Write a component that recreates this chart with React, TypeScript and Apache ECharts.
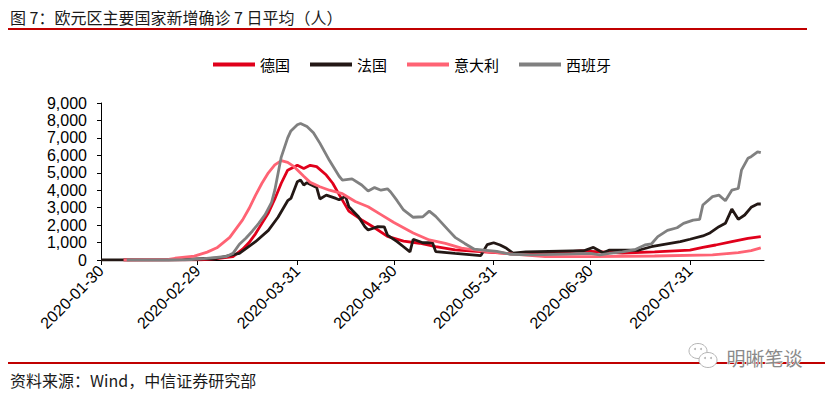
import React, { useEffect, useRef } from "react";
import * as echarts from "echarts";

// ---------- data ----------
const START_DATE = "2020-01-30";
const END_DATE = "2020-08-23";
const TICK_DATES = ["2020-01-30", "2020-02-29", "2020-03-31", "2020-04-30", "2020-05-31", "2020-06-30", "2020-07-31"];
const SERIES_NAMES = ["德国", "法国", "意大利", "西班牙"];

// [MM-DD, value]
const germany: [string, number][] = [
  ["02-06", 0], ["03-01", 10], ["03-06", 80], ["03-11", 200], ["03-14", 620], ["03-16", 1000],
  ["03-18", 1500], ["03-20", 2100], ["03-22", 2700], ["03-24", 3500], ["03-26", 4400], ["03-28", 5150],
  ["03-31", 5430], ["04-02", 5250], ["04-04", 5430], ["04-06", 5350], ["04-09", 4870], ["04-11", 4400],
  ["04-13", 3750], ["04-16", 2800], ["04-20", 2300], ["04-24", 1850], ["04-28", 1350], ["05-03", 1080],
  ["05-08", 960], ["05-13", 770], ["05-19", 580], ["05-28", 470], ["06-06", 350], ["06-16", 380],
  ["06-27", 520], ["07-10", 400], ["07-20", 460], ["07-31", 570], ["08-04", 730], ["08-08", 860],
  ["08-13", 1050], ["08-18", 1240], ["08-22", 1340],
];

const france: [string, number][] = [
  ["01-30", 0], ["02-20", 0], ["03-06", 100], ["03-13", 380], ["03-18", 1050], ["03-22", 1700],
  ["03-25", 2450], ["03-28", 3400], ["03-29", 3530], ["03-31", 4490], ["04-01", 4580], ["04-02", 4300],
  ["04-03", 4430], ["04-06", 4160], ["04-07", 3500], ["04-09", 3720], ["04-12", 3530], ["04-13", 3450],
  ["04-15", 3650], ["04-16", 3060], ["04-19", 2480], ["04-21", 1910], ["04-22", 1720], ["04-25", 1910],
  ["04-27", 1900], ["04-28", 1430], ["05-01", 1050], ["05-03", 760], ["05-05", 470], ["05-06", 1190],
  ["05-09", 990], ["05-12", 990], ["05-13", 480], ["05-19", 380], ["05-27", 250], ["05-29", 880],
  ["05-31", 990], ["06-02", 860], ["06-04", 670], ["06-06", 390], ["06-10", 470], ["06-28", 530],
  ["07-01", 720], ["07-04", 420], ["07-06", 570], ["07-15", 560], ["07-19", 760], ["07-23", 900],
  ["07-28", 1050], ["07-31", 1190], ["08-04", 1380], ["08-06", 1530], ["08-09", 1910], ["08-11", 2100],
  ["08-13", 2920], ["08-15", 2330], ["08-17", 2580], ["08-19", 3020], ["08-21", 3210], ["08-22", 3210],
];

const italy: [string, number][] = [
  ["02-06", 0], ["02-20", 30], ["02-22", 100], ["02-28", 220], ["03-03", 450], ["03-06", 700],
  ["03-08", 1000], ["03-10", 1300], ["03-12", 1800], ["03-14", 2300], ["03-16", 2950], ["03-18", 3700],
  ["03-20", 4400], ["03-22", 5000], ["03-24", 5450], ["03-26", 5700], ["03-28", 5600], ["03-30", 5350],
  ["04-02", 4800], ["04-04", 4450], ["04-07", 4200], ["04-10", 4000], ["04-14", 3800], ["04-18", 3350],
  ["04-22", 3050], ["04-26", 2600], ["04-30", 2150], ["05-06", 1550], ["05-11", 1150], ["05-16", 950],
  ["05-21", 680], ["05-29", 480], ["06-06", 340], ["06-16", 200], ["07-01", 190], ["07-20", 230],
  ["08-07", 290], ["08-15", 420], ["08-19", 540], ["08-22", 700],
];

const spain: [string, number][] = [
  ["02-07", 0], ["02-25", 0], ["03-02", 80], ["03-09", 200], ["03-11", 380], ["03-13", 900],
  ["03-15", 1250], ["03-17", 1650], ["03-19", 2100], ["03-21", 2600], ["03-23", 3300], ["03-24", 4000],
  ["03-26", 5900], ["03-28", 7000], ["03-29", 7400], ["03-31", 7750], ["04-01", 7830], ["04-03", 7650],
  ["04-05", 7300], ["04-07", 6700], ["04-10", 5700], ["04-13", 4800], ["04-14", 4580], ["04-17", 4650],
  ["04-20", 4300], ["04-22", 3950], ["04-24", 4150], ["04-26", 4000], ["04-28", 4080], ["04-29", 3900],
  ["05-01", 3400], ["05-03", 2870], ["05-06", 2450], ["05-09", 2480], ["05-11", 2800], ["05-13", 2500],
  ["05-15", 2100], ["05-17", 1700], ["05-19", 1300], ["05-22", 950], ["05-25", 620], ["05-28", 570],
  ["06-01", 500], ["06-05", 330], ["06-12", 290], ["06-22", 340], ["06-30", 380], ["07-03", 300],
  ["07-06", 380], ["07-10", 470], ["07-14", 600], ["07-17", 860], ["07-19", 920], ["07-21", 1340],
  ["07-24", 1700], ["07-27", 1850], ["07-29", 2100], ["08-01", 2290], ["08-03", 2330], ["08-04", 3150],
  ["08-07", 3630], ["08-09", 3720], ["08-11", 3400], ["08-13", 4000], ["08-15", 4100], ["08-16", 5150],
  ["08-18", 5830], ["08-19", 5920], ["08-21", 6200], ["08-22", 6150],
];

const COLORS = ["#e0001b", "#231815", "#ff6374", "#808080"];

// ---------- helpers ----------
function buildDates(start: string, end: string): string[] {
  const out: string[] = [];
  const d = new Date(start + "T00:00:00Z");
  const e = new Date(end + "T00:00:00Z");
  while (d.getTime() <= e.getTime()) {
    out.push(d.toISOString().slice(0, 10));
    d.setUTCDate(d.getUTCDate() + 1);
  }
  return out;
}

const categories = buildDates(START_DATE, END_DATE);

function toPoints(arr: [string, number][]) {
  return arr.map(([md, v]) => [categories.indexOf("2020-" + md), v]);
}

const CJK = "'Noto Sans CJK SC', 'Noto Sans', sans-serif";
const LATIN = "'Liberation Sans', Arial, sans-serif";

export default function App() {
  const ref = useRef<HTMLDivElement>(null);

  useEffect(() => {
    if (!ref.current) return;
    const chart = echarts.init(ref.current, undefined, { renderer: "svg" });
    const seriesData = [germany, france, italy, spain];
    const showTick = (idx: number) => TICK_DATES.includes(categories[idx]);

    chart.setOption({
      animation: false,
      backgroundColor: "#ffffff",
      grid: { left: 101, right: 68, top: 103, bottom: 136, containLabel: false },
      legend: {
        data: SERIES_NAMES,
        left: 213,
        top: 57,
        padding: 0,
        icon: "rect",
        itemWidth: 42,
        itemHeight: 4,
        itemGap: 20,
        textStyle: { fontFamily: CJK, fontSize: 15, color: "#000" },
      },
      xAxis: {
        type: "category",
        data: categories,
        boundaryGap: false,
        axisLine: { show: true, lineStyle: { color: "#000", width: 1 } },
        axisTick: {
          show: true,
          inside: false,
          length: 5,
          interval: (idx: number) => showTick(idx),
          lineStyle: { color: "#000" },
        },
        axisLabel: {
          interval: (idx: number) => showTick(idx),
          rotate: 45,
          margin: 8,
          fontFamily: LATIN,
          fontSize: 16,
          color: "#000",
        },
        splitLine: { show: false },
      },
      yAxis: {
        type: "value",
        min: 0,
        max: 9000,
        interval: 1000,
        axisLine: { show: true, lineStyle: { color: "#000", width: 1 } },
        axisTick: { show: true, inside: false, length: 4, lineStyle: { color: "#000" } },
        axisLabel: {
          margin: 14,
          fontFamily: LATIN,
          fontSize: 16,
          color: "#000",
          formatter: (v: number) => v.toLocaleString("en-US"),
        },
        splitLine: { show: false },
      },
      series: SERIES_NAMES.map((name, i) => ({
        name,
        type: "line",
        data: toPoints(seriesData[i]),
        showSymbol: false,
        symbol: "none",
        connectNulls: true,
        lineStyle: { color: COLORS[i], width: 2.8 },
        itemStyle: { color: COLORS[i] },
      })),
      graphic: [
        {
          type: "text",
          left: 10,
          top: 9,
          style: {
            text: "图 7：欧元区主要国家新增确诊 7 日平均（人）",
            fontFamily: CJK,
            fontSize: 16,
            fill: "#1a1a1a",
          },
        },
        {
          type: "line",
          shape: { x1: 8, y1: 29, x2: 807, y2: 29 },
          style: { stroke: "#c00000", lineWidth: 2 },
        },
        {
          type: "line",
          shape: { x1: 8, y1: 363, x2: 825, y2: 363 },
          style: { stroke: "#c00000", lineWidth: 2 },
        },
        {
          type: "text",
          left: 10,
          top: 372,
          style: {
            text: "资料来源：Wind，中信证券研究部",
            fontFamily: CJK,
            fontSize: 16,
            fill: "#1a1a1a",
          },
        },
        {
          type: "group",
          children: [
            {
              type: "ellipse",
              shape: { cx: 698, cy: 351, rx: 9, ry: 7.5 },
              style: { fill: "#ffffff", stroke: "#b5b5b5", lineWidth: 1 },
            },
            {
              type: "ellipse",
              shape: { cx: 708, cy: 360, rx: 9, ry: 7.5 },
              style: { fill: "#ffffff", stroke: "#b5b5b5", lineWidth: 1 },
            },
            { type: "circle", shape: { cx: 695, cy: 349, r: 1 }, style: { fill: "#b5b5b5" } },
            { type: "circle", shape: { cx: 701, cy: 349, r: 1 }, style: { fill: "#b5b5b5" } },
            { type: "circle", shape: { cx: 705, cy: 358, r: 1 }, style: { fill: "#b5b5b5" } },
            { type: "circle", shape: { cx: 711, cy: 358, r: 1 }, style: { fill: "#b5b5b5" } },
            {
              type: "text",
              left: 726,
              top: 347,
              style: {
                text: "明晰笔谈",
                fontFamily: CJK,
                fontSize: 19,
                fill: "#8a8a8a",
                stroke: "#ffffff",
                lineWidth: 1,
              },
            },
          ],
        },
      ],
    });

    return () => chart.dispose();
  }, []);

  return (
    <div
      ref={ref}
      style={{ position: "fixed", left: 0, top: 0, width: 832, height: 396, background: "#fff" }}
    />
  );
}
